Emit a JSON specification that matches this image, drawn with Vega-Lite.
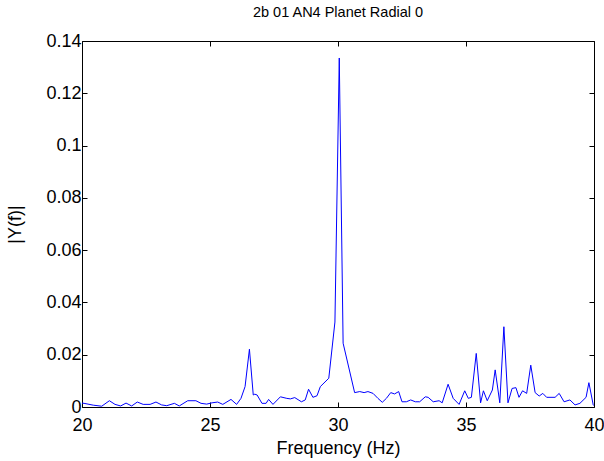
{
  "$schema": "https://vega.github.io/schema/vega-lite/v6.json",
  "width": 512,
  "height": 366,
  "autosize": {"type": "none"},
  "padding": {"left": 82, "top": 41, "right": 10, "bottom": 54},
  "background": "white",
  "config": {
    "view": {"stroke": "black", "strokeWidth": 1},
    "font": "Liberation Sans",
    "axis": {"grid": false, "domain": false, "tickColor": "black", "tickSize": -5, "labelColor": "black", "labelFont": "Liberation Sans", "labelFontSize": 18, "labelFlush": false, "labelOverlap": false, "titleFont": "Liberation Sans", "titleFontSize": 18, "titleFontWeight": "normal", "titleColor": "black"}
  },
  "title": {"text": "2b 01 AN4 Planet Radial 0", "fontSize": 14.5, "fontWeight": "normal", "font": "Liberation Sans", "color": "black", "offset": 12},
  "data": {"values": [
    {"f": 20.0, "a": 0.0015}, {"f": 20.08, "a": 0.0014}, {"f": 20.44, "a": 0.0007}, {"f": 20.77, "a": 0.0003},
    {"f": 21.07, "a": 0.0024}, {"f": 21.29, "a": 0.001}, {"f": 21.51, "a": 0.0004}, {"f": 21.72, "a": 0.0015},
    {"f": 21.94, "a": 0.0004}, {"f": 22.16, "a": 0.0019}, {"f": 22.39, "a": 0.001}, {"f": 22.66, "a": 0.001},
    {"f": 22.89, "a": 0.0019}, {"f": 23.11, "a": 0.0008}, {"f": 23.31, "a": 0.0005}, {"f": 23.61, "a": 0.0014},
    {"f": 23.8, "a": 0.0004}, {"f": 24.13, "a": 0.0024}, {"f": 24.45, "a": 0.0024}, {"f": 24.65, "a": 0.0014},
    {"f": 24.87, "a": 0.0011}, {"f": 25.08, "a": 0.0016}, {"f": 25.3, "a": 0.0019}, {"f": 25.5, "a": 0.001},
    {"f": 25.82, "a": 0.0029}, {"f": 26.04, "a": 0.001}, {"f": 26.21, "a": 0.0033}, {"f": 26.37, "a": 0.0078},
    {"f": 26.54, "a": 0.0221}, {"f": 26.69, "a": 0.0046}, {"f": 26.75, "a": 0.0049}, {"f": 26.84, "a": 0.0046},
    {"f": 27.03, "a": 0.0014}, {"f": 27.19, "a": 0.0014}, {"f": 27.29, "a": 0.0029}, {"f": 27.46, "a": 0.001},
    {"f": 27.75, "a": 0.0039}, {"f": 28.0, "a": 0.0033}, {"f": 28.14, "a": 0.0031}, {"f": 28.31, "a": 0.0036},
    {"f": 28.57, "a": 0.002}, {"f": 28.72, "a": 0.0027}, {"f": 28.85, "a": 0.0068}, {"f": 29.02, "a": 0.0037},
    {"f": 29.18, "a": 0.0043}, {"f": 29.31, "a": 0.0078}, {"f": 29.64, "a": 0.011}, {"f": 29.88, "a": 0.0325},
    {"f": 30.05, "a": 0.1335}, {"f": 30.2, "a": 0.0244}, {"f": 30.65, "a": 0.0055}, {"f": 30.85, "a": 0.0059},
    {"f": 31.02, "a": 0.0055}, {"f": 31.17, "a": 0.0059}, {"f": 31.37, "a": 0.0052}, {"f": 31.56, "a": 0.0033},
    {"f": 31.73, "a": 0.0018}, {"f": 31.89, "a": 0.0033}, {"f": 32.06, "a": 0.0055}, {"f": 32.21, "a": 0.005},
    {"f": 32.37, "a": 0.0059}, {"f": 32.5, "a": 0.002}, {"f": 32.67, "a": 0.002}, {"f": 32.84, "a": 0.0027},
    {"f": 33.02, "a": 0.002}, {"f": 33.19, "a": 0.002}, {"f": 33.41, "a": 0.0039}, {"f": 33.52, "a": 0.0037},
    {"f": 33.72, "a": 0.002}, {"f": 33.95, "a": 0.0024}, {"f": 34.07, "a": 0.0016}, {"f": 34.3, "a": 0.0087},
    {"f": 34.5, "a": 0.0033}, {"f": 34.73, "a": 0.001}, {"f": 34.95, "a": 0.0062}, {"f": 35.09, "a": 0.0033},
    {"f": 35.21, "a": 0.0037}, {"f": 35.4, "a": 0.0205}, {"f": 35.57, "a": 0.0016}, {"f": 35.68, "a": 0.0062},
    {"f": 35.83, "a": 0.0024}, {"f": 36.03, "a": 0.0065}, {"f": 36.14, "a": 0.0142}, {"f": 36.32, "a": 0.0016},
    {"f": 36.48, "a": 0.0307}, {"f": 36.64, "a": 0.0016}, {"f": 36.8, "a": 0.0071}, {"f": 36.95, "a": 0.0074},
    {"f": 37.07, "a": 0.0037}, {"f": 37.21, "a": 0.0062}, {"f": 37.37, "a": 0.0052}, {"f": 37.53, "a": 0.016},
    {"f": 37.7, "a": 0.0055}, {"f": 37.86, "a": 0.0042}, {"f": 38.0, "a": 0.0052}, {"f": 38.15, "a": 0.0037},
    {"f": 38.48, "a": 0.0037}, {"f": 38.64, "a": 0.0052}, {"f": 38.83, "a": 0.002}, {"f": 39.06, "a": 0.0027},
    {"f": 39.26, "a": 0.0008}, {"f": 39.45, "a": 0.0014}, {"f": 39.69, "a": 0.0037}, {"f": 39.8, "a": 0.0093},
    {"f": 39.97, "a": 0.0008}, {"f": 40.0, "a": 0.0005}
  ]},
  "layer": [
    {
      "mark": {"type": "line", "color": "#0000ff", "strokeWidth": 1, "clip": true},
      "encoding": {
        "x": {"field": "f", "type": "quantitative", "scale": {"domain": [20, 40], "nice": false, "zero": false},
              "axis": {"orient": "bottom", "values": [20, 25, 30, 35, 40], "format": "d", "title": "Frequency (Hz)", "labelPadding": 14, "titlePadding": 5}},
        "y": {"field": "a", "type": "quantitative", "scale": {"domain": [0, 0.14], "nice": false},
              "axis": {"orient": "left", "values": [0, 0.02, 0.04, 0.06, 0.08, 0.1, 0.12, 0.14], "format": "~g", "title": "|Y(f)|", "labelPadding": 6, "titlePadding": 21}}
      }
    },
    {
      "mark": {"type": "line", "opacity": 0},
      "encoding": {
        "x": {"field": "f", "type": "quantitative", "axis": {"orient": "top", "values": [20, 25, 30, 35, 40], "labels": false, "title": null}},
        "y": {"field": "a", "type": "quantitative", "axis": {"orient": "right", "values": [0, 0.02, 0.04, 0.06, 0.08, 0.1, 0.12, 0.14], "labels": false, "title": null}}
      }
    }
  ]
}
